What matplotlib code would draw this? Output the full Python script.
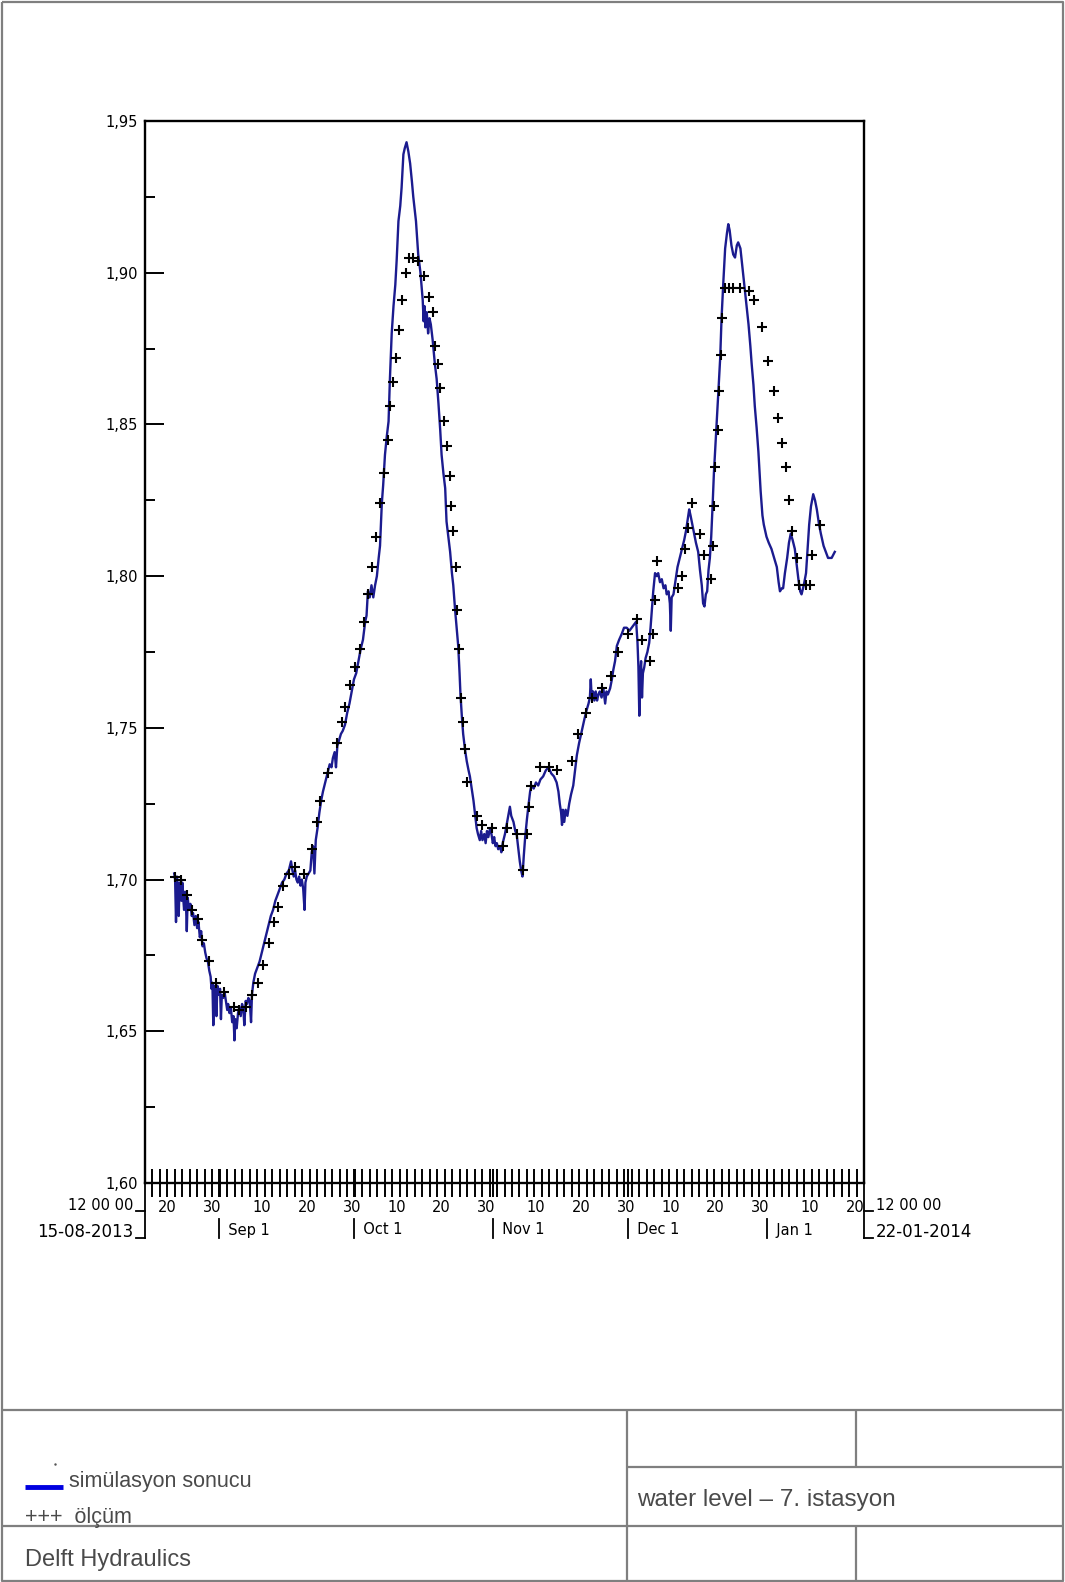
import datetime as dt

import matplotlib
matplotlib.use("Agg")
import matplotlib.dates as mdates
import matplotlib.pyplot as plt
from matplotlib.ticker import FixedLocator, FuncFormatter

# ---------------------------------------------------------------------------
# Series: time is given in days after the start of the window (15-08-2013 12:00)
# ---------------------------------------------------------------------------
t_start = dt.datetime(2013, 8, 15, 12)
t_end = dt.datetime(2014, 1, 22, 12)

sim_day = [
    6.5, 6.7, 6.9, 7.1, 7.3, 7.5, 7.7, 7.9, 8.1, 8.3, 8.5, 8.7, 8.9, 9.1, 9.3, 9.5,
    9.8, 10.1, 10.4, 10.7, 11.0, 11.3, 11.6, 11.9, 12.2, 12.5, 12.8, 13.1, 13.4,
    13.7, 14.0, 14.3, 14.6, 14.8, 15.0, 15.2, 15.4, 15.7, 15.9, 16.1, 16.4, 16.7,
    16.9, 17.1, 17.4, 17.7, 18.0, 18.3, 18.5, 18.8, 19.1, 19.4, 19.7, 19.9, 20.1,
    20.4, 20.7, 21.0, 21.3, 21.6, 21.9, 22.1, 22.4, 22.7, 23.0, 23.3, 23.6, 23.8,
    24.1, 24.5, 25.0, 25.5, 26.0, 26.5, 27.0, 27.5, 28.0, 28.5, 29.0, 29.5, 30.0,
    30.5, 31.0, 31.5, 32.0, 32.5, 32.8, 33.1, 33.4, 33.7, 34.0, 34.3, 34.6, 34.9,
    35.2, 35.5, 35.7, 36.0, 36.4, 36.8, 37.1, 37.4, 37.7, 38.0, 38.4, 38.8, 39.2,
    39.6, 40.1, 40.6, 41.1, 41.5, 41.8, 42.2, 42.5, 42.8, 43.2, 43.6, 44.0, 44.5,
    45.0, 45.5, 46.0, 46.5, 47.0, 47.5, 48.0, 48.5, 49.0, 49.3, 49.6, 50.0, 50.4,
    50.8, 51.2, 51.6, 52.0, 52.3, 52.7, 53.0, 53.4, 53.8, 54.2, 54.5, 54.9, 55.3,
    55.7, 56.0, 56.4, 56.8, 57.1, 57.5, 57.8, 58.2, 58.6, 59.0, 59.4, 59.7, 60.0,
    60.3, 60.8, 61.3, 61.8, 62.0, 62.2, 62.4, 62.7, 63.0, 63.3, 63.6, 64.0, 64.5,
    64.9, 65.3, 65.7, 66.0, 66.4, 66.8, 67.1, 67.5, 67.9, 68.3, 68.6, 69.0, 69.4,
    69.7, 70.0, 70.2, 70.5, 70.8, 71.2, 71.6, 72.0, 72.3, 72.7, 73.1, 73.5, 73.8,
    74.1, 74.5, 74.8, 75.1, 75.5, 75.8, 76.1, 76.4, 76.8, 77.1, 77.4, 77.7, 78.0,
    78.3, 78.6, 79.0, 79.3, 79.6, 80.1, 80.6, 81.0, 81.2, 81.5, 82.0, 82.4, 82.7,
    83.1, 83.4, 83.7, 84.0, 84.3, 84.6, 85.0, 85.3, 85.7, 86.0, 86.5, 87.0, 87.5,
    88.0, 88.6, 89.2, 89.8, 90.4, 91.0, 91.6, 92.0, 92.3, 92.6, 92.8, 93.0, 93.3,
    93.6, 94.0, 94.4, 94.8, 95.3, 95.7, 96.1, 96.6, 97.2, 97.8, 98.3, 98.7, 99.0,
    99.2, 99.4, 99.7, 100.0, 100.3, 100.6, 100.9, 101.2, 101.6, 102.0, 102.4,
    102.7, 103.0, 103.5, 103.9, 104.2, 104.6, 105.0, 105.5, 106.1, 106.6, 107.2,
    107.8, 108.3, 108.8, 109.3, 109.6, 109.8, 110.0, 110.2, 110.4, 110.6, 110.8,
    111.1, 111.4, 111.8, 112.2, 112.5, 112.8, 113.1, 113.5, 113.9, 114.2, 114.6,
    115.0, 115.4, 115.8, 116.1, 116.5, 116.8, 117.0, 117.2, 117.6, 118.0, 118.5,
    119.0, 119.5, 120.0, 120.4, 120.8, 121.1, 121.4, 121.8, 122.2, 122.6, 123.1,
    123.5, 123.9, 124.2, 124.5, 124.8, 125.1, 125.4, 125.7, 126.0, 126.3, 126.6,
    126.9, 127.2, 127.6, 128.0, 128.3, 128.7, 129.1, 129.5, 129.8, 130.1, 130.5,
    130.9, 131.3, 131.7, 132.0, 132.5, 133.0, 133.5, 134.0, 134.3, 134.7, 135.0,
    135.4, 135.7, 136.1, 136.5, 137.0, 137.4, 137.7, 138.0, 138.3, 138.8, 139.4,
    140.0, 140.6, 141.0, 141.3, 141.7, 142.0, 142.4, 142.9, 143.3, 143.7, 144.1,
    144.6, 145.0, 145.4, 145.8, 146.1, 146.6, 147.1, 147.5, 147.8, 148.2, 148.7,
    149.1, 149.5, 150.0, 150.4, 151.0, 151.5, 152.0, 152.8, 153.5,
]

sim_level = [
    1.702, 1.700, 1.686, 1.701, 1.697, 1.688, 1.699, 1.697, 1.693, 1.699, 1.694,
    1.690, 1.696, 1.693, 1.683, 1.694, 1.690, 1.692, 1.688, 1.689, 1.685, 1.688,
    1.684, 1.686, 1.681, 1.683, 1.678, 1.679, 1.676, 1.674, 1.673, 1.670, 1.668,
    1.664, 1.666, 1.652, 1.665, 1.663, 1.655, 1.665, 1.662, 1.664, 1.654, 1.662,
    1.661, 1.663, 1.660, 1.657, 1.659, 1.656, 1.658, 1.653, 1.655, 1.647, 1.654,
    1.651, 1.656, 1.658, 1.655, 1.659, 1.657, 1.652, 1.660, 1.659, 1.661, 1.660,
    1.653, 1.662, 1.666, 1.669, 1.671, 1.673, 1.676, 1.679, 1.682, 1.685, 1.688,
    1.690, 1.693, 1.695, 1.697, 1.699, 1.700, 1.702, 1.703, 1.706, 1.703, 1.701,
    1.703, 1.700, 1.699, 1.701, 1.698, 1.700, 1.697, 1.690, 1.699, 1.701, 1.702,
    1.703, 1.709, 1.711, 1.702, 1.713, 1.717, 1.722, 1.726, 1.729, 1.732, 1.735,
    1.738, 1.737, 1.740, 1.742, 1.737, 1.744, 1.746, 1.748, 1.749, 1.751, 1.755,
    1.758, 1.762, 1.766, 1.768, 1.772, 1.776, 1.779, 1.785, 1.787, 1.795, 1.793,
    1.797, 1.793, 1.797, 1.800, 1.806, 1.810, 1.824, 1.830, 1.840, 1.846, 1.851,
    1.865, 1.880, 1.889, 1.896, 1.904, 1.917, 1.922, 1.928, 1.939, 1.941, 1.943,
    1.940, 1.936, 1.930, 1.925, 1.921, 1.917, 1.906, 1.900, 1.891, 1.884, 1.889,
    1.882, 1.887, 1.880, 1.885, 1.883, 1.878, 1.870, 1.865, 1.857, 1.848, 1.840,
    1.834, 1.829, 1.818, 1.813, 1.808, 1.801, 1.797, 1.789, 1.782, 1.777, 1.768,
    1.761, 1.754, 1.748, 1.743, 1.739, 1.736, 1.734, 1.730, 1.726, 1.721, 1.717,
    1.715, 1.713, 1.716, 1.713, 1.715, 1.712, 1.716, 1.714, 1.717, 1.715, 1.712,
    1.714, 1.711, 1.712, 1.710, 1.711, 1.709, 1.712, 1.715, 1.719, 1.722, 1.724,
    1.721, 1.719, 1.716, 1.715, 1.710, 1.706, 1.703, 1.701, 1.708, 1.714, 1.720,
    1.724, 1.729, 1.731, 1.730, 1.732, 1.731, 1.733, 1.734, 1.736, 1.737, 1.735,
    1.734, 1.732, 1.729, 1.725, 1.722, 1.718, 1.723, 1.719, 1.723, 1.721, 1.725,
    1.728, 1.731, 1.736, 1.741, 1.745, 1.749, 1.753, 1.756, 1.758, 1.760, 1.766,
    1.760, 1.762, 1.759, 1.762, 1.759, 1.761, 1.762, 1.760, 1.763, 1.758, 1.762,
    1.761, 1.763, 1.766, 1.769, 1.772, 1.777, 1.779, 1.781, 1.783, 1.783, 1.782,
    1.783, 1.784, 1.785, 1.778, 1.770, 1.754, 1.768, 1.772, 1.760, 1.768, 1.770,
    1.773, 1.775, 1.778, 1.783, 1.789, 1.795, 1.801, 1.800, 1.801, 1.798, 1.799,
    1.796, 1.797, 1.794, 1.795, 1.791, 1.782, 1.793, 1.794, 1.798, 1.803, 1.806,
    1.809, 1.812, 1.815, 1.819, 1.822, 1.820, 1.817, 1.814, 1.811, 1.808, 1.802,
    1.797, 1.791, 1.790, 1.794, 1.795, 1.802, 1.806, 1.813, 1.823, 1.834, 1.842,
    1.850, 1.861, 1.872, 1.885, 1.897, 1.908, 1.913, 1.916, 1.914, 1.909, 1.906,
    1.905, 1.909, 1.910, 1.908, 1.901, 1.894, 1.887, 1.883, 1.876, 1.870, 1.863,
    1.856, 1.849, 1.841, 1.828, 1.820, 1.817, 1.815, 1.813, 1.811, 1.809, 1.806,
    1.803, 1.798, 1.795, 1.796, 1.796, 1.801, 1.806, 1.811, 1.814, 1.812, 1.809,
    1.804, 1.799, 1.795, 1.794, 1.797, 1.801, 1.810, 1.817, 1.823, 1.827, 1.825,
    1.822, 1.817, 1.814, 1.810, 1.808, 1.806, 1.806, 1.808,
]

obs_day = [
    6.7, 7.9, 9.3, 10.5, 11.7, 12.6, 14.2, 15.8, 17.6, 19.7, 21.0, 22.4, 23.8,
    25.2, 26.2, 27.6, 28.7, 29.6, 30.8, 32.0, 33.3, 35.4, 37.2, 38.2, 39.0, 40.7,
    42.7, 43.8, 44.6, 45.6, 46.7, 47.8, 48.8, 49.7, 50.5, 51.4, 52.4, 53.2, 54.0,
    54.6, 55.2, 55.8, 56.6, 57.2, 58.1, 58.7, 59.7, 60.8, 62.1, 63.2, 64.0, 64.6,
    65.2, 65.7, 66.6, 67.3, 67.8, 68.2, 68.6, 69.1, 69.5, 69.9, 70.3, 70.7, 71.1,
    71.6, 73.8, 75.1, 77.3, 79.7, 80.5, 82.7, 84.2, 85.0, 85.5, 86.0, 87.9, 89.8,
    91.6, 95.1, 96.4, 98.1, 99.5, 101.6, 103.6, 105.3, 107.5, 109.5, 110.7, 112.3,
    113.0, 113.4, 114.0, 118.7, 119.6, 120.1, 120.8, 121.8, 123.4, 124.4, 125.9,
    126.3, 126.6, 126.9, 127.4, 127.8, 128.1, 128.5, 129.1, 130.0, 130.9, 132.3,
    134.3, 135.5, 137.2, 138.7, 140.0, 140.8, 141.7, 142.6, 143.4, 143.9, 145.0,
    145.6, 147.1, 148.0, 148.4, 150.2,
]

obs_level = [
    1.701, 1.700, 1.695, 1.690, 1.687, 1.680, 1.673, 1.666, 1.663, 1.658, 1.657,
    1.658, 1.662, 1.666, 1.672, 1.679, 1.686, 1.691, 1.698, 1.702, 1.704, 1.702,
    1.710, 1.719, 1.726, 1.735, 1.745, 1.752, 1.757, 1.764, 1.770, 1.776, 1.785,
    1.794, 1.803, 1.813, 1.824, 1.834, 1.845, 1.856, 1.864, 1.872, 1.881, 1.891,
    1.900, 1.905, 1.905, 1.904, 1.899, 1.892, 1.887, 1.876, 1.870, 1.862, 1.851,
    1.843, 1.833, 1.823, 1.815, 1.803, 1.789, 1.776, 1.760, 1.752, 1.743, 1.732,
    1.721, 1.718, 1.717, 1.711, 1.717, 1.715, 1.703, 1.715, 1.724, 1.731, 1.737,
    1.737, 1.736, 1.739, 1.748, 1.755, 1.760, 1.763, 1.767, 1.775, 1.781, 1.786,
    1.779, 1.772, 1.781, 1.792, 1.805, 1.796, 1.800, 1.809, 1.816, 1.824, 1.814,
    1.807, 1.799, 1.810, 1.823, 1.836, 1.848, 1.861, 1.873, 1.885, 1.895, 1.895,
    1.895, 1.895, 1.894, 1.891, 1.882, 1.871, 1.861, 1.852, 1.844, 1.836, 1.825,
    1.815, 1.806, 1.797, 1.797, 1.797, 1.807, 1.817,
]

y_ticks = [1.60, 1.65, 1.70, 1.75, 1.80, 1.85, 1.90, 1.95]
y_minor_ticks = [1.625, 1.675, 1.725, 1.775, 1.825, 1.875, 1.925]

# day-of-month labels written under the axis
day_label_dates = [
    (2013, 8, 20), (2013, 8, 30), (2013, 9, 10), (2013, 9, 20), (2013, 9, 30),
    (2013, 10, 10), (2013, 10, 20), (2013, 10, 30), (2013, 11, 10),
    (2013, 11, 20), (2013, 11, 30), (2013, 12, 10), (2013, 12, 20),
    (2013, 12, 30), (2014, 1, 10), (2014, 1, 20),
]
month_starts = [(2013, 9, 1), (2013, 10, 1), (2013, 11, 1), (2013, 12, 1), (2014, 1, 1)]
month_names = ["Sep 1", "Oct 1", "Nov 1", "Dec 1", "Jan 1"]

tick_step_hours = 40

legend_sim = "simülasyon sonucu"
legend_obs = "+++  ölçüm"
title_text = "water level \u2013 7. istasyon"
org_text = "Delft Hydraulics"


def to_num(days):
    return [mdates.date2num(t_start + dt.timedelta(days=d)) for d in days]


W, H = 1065, 1582
fig = plt.figure(figsize=(W / 100, H / 100), dpi=100)
fig.patch.set_facecolor("white")

# page frame and title block, drawn in pixel coordinates
frame = fig.add_axes([0, 0, 1, 1])
frame.set_xlim(0, W)
frame.set_ylim(H, 0)
frame.axis("off")
frame.patch.set_alpha(0)
grey = "#7f7f7f"
lw_frame = 1.6
for xs, ys in [
    ([2, W - 2, W - 2, 2, 2], [2, 2, H - 1, H - 1, 2]),
    ([2, W - 2], [1410, 1410]),
    ([2, W - 2], [1526, 1526]),
    ([627, 627], [1410, H]),
    ([856, 856], [1410, 1467]),
    ([856, 856], [1526, H]),
    ([627, W - 2], [1467, 1467]),
]:
    frame.plot(xs, ys, color=grey, lw=lw_frame, solid_capstyle="butt")

txt_kw = dict(family=["Liberation Sans", "DejaVu Sans"], color="#4a4a4a", va="center")
frame.plot([25, 63], [1487, 1487], color="#0000e0", lw=3.5, solid_capstyle="butt")
frame.plot([55], [1464], marker=".", color="#555555", markersize=1.5)
frame.text(69, 1481, legend_sim, fontsize=15.5, **txt_kw)
frame.text(25, 1518, legend_obs, fontsize=15.5, **txt_kw)
frame.text(637, 1500, title_text, fontsize=17.5, **txt_kw)
frame.text(25, 1560, org_text, fontsize=17, **txt_kw)

# main graph
ax = fig.add_axes([145 / W, 1 - 1183 / H, (864 - 145) / W, (1183 - 121) / H])
ax.patch.set_alpha(0)
x0, x1 = mdates.date2num(t_start), mdates.date2num(t_end)
ax.set_xlim(x0, x1)
ax.set_ylim(1.60, 1.95)

ax.plot(to_num(sim_day), sim_level, color="#1b1b8f", lw=1.7, zorder=2)
ax.plot(to_num(obs_day), obs_level, linestyle="none", marker="+", color="black",
        markersize=7, markeredgewidth=1.5, zorder=3)

for s in ax.spines.values():
    s.set_linewidth(1.7)
    s.set_color("black")

axis_font = dict(family="DejaVu Sans", fontsize=10.5, color="black")

ax.yaxis.set_major_locator(FixedLocator(y_ticks))
ax.yaxis.set_minor_locator(FixedLocator(y_minor_ticks))
ax.yaxis.set_major_formatter(FuncFormatter(lambda v, p: f"{v:.2f}".replace(".", ",")))
ax.tick_params(axis="y", which="major", direction="in", length=14, width=1.4,
               pad=5, labelsize=10.5, right=False)
ax.tick_params(axis="y", which="minor", direction="in", length=7, width=1.4, right=False)

# crossing ticks along the time axis, plus an extra tick at each month start
step = tick_step_hours / 24
n_steps = int((x1 - x0) / step)
regular = [x0 + k * step for k in range(1, n_steps + 1) if x0 + k * step < x1 - 0.3]
extra = [mdates.date2num(dt.datetime(*m)) for m in month_starts]
ax.xaxis.set_major_locator(FixedLocator(sorted(regular + extra)))
ax.tick_params(axis="x", which="major", direction="inout", length=20, width=1.4,
               labelbottom=False, top=False)

xt = ax.get_xaxis_transform()
ax_h = 1183 - 121
for d in day_label_dates:
    xd = mdates.date2num(dt.datetime(*d, 12))
    ax.text(xd, -24 / ax_h, str(d[2]), transform=xt, ha="center", va="center", **axis_font)
for m, name in zip(month_starts, month_names):
    xm = mdates.date2num(dt.datetime(*m))
    ax.plot([xm, xm], [-36 / ax_h, -55 / ax_h], transform=xt, color="black", lw=1.3,
            clip_on=False)
    ax.text(xm, -47 / ax_h, "  " + name, transform=xt, ha="left", va="center", **axis_font)

# start / end brackets with time stamps
ta = ax.transAxes
ax_w = 864 - 145
for xa, sign, ha, lab in [(0.0, -1, "right", ("12 00 00", "15-08-2013")),
                          (1.0, 1, "left", ("12 00 00", "22-01-2014"))]:
    ax.plot([xa, xa], [0, -55 / ax_h], transform=ta, color="black", lw=1.3, clip_on=False)
    for yy in (-28 / ax_h, -55 / ax_h):
        ax.plot([xa, xa + sign * 9 / ax_w], [yy, yy], transform=ta, color="black",
                lw=1.3, clip_on=False)
    ax.text(xa + sign * 12 / ax_w, -22 / ax_h, lab[0], transform=ta, ha=ha, va="center", **axis_font)
    ax.text(xa + sign * 12 / ax_w, -49 / ax_h, lab[1], transform=ta, ha=ha, va="center",
            family="DejaVu Sans", fontsize=12, color="black")

fig.savefig("out.png", dpi=100, facecolor="white")
